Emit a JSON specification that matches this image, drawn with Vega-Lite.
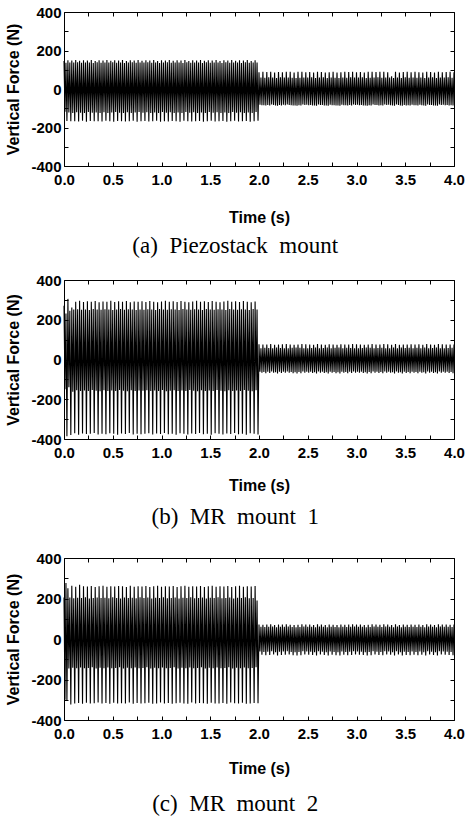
{
"$schema":"https://vega.github.io/schema/vega-lite/v6.json",
"background":"white",
"padding":{"left":5,"top":4,"right":0,"bottom":2},
"config":{
"view":{"stroke":"black","strokeWidth":1},
"axis":{"grid":false,"domain":false,"tickColor":"black","tickSize":-4,"tickWidth":1,"labelFont":"Liberation Sans","labelFontWeight":"bold","labelFontSize":15,"labelColor":"black","labelFlush":false,"labelOverlap":false,"titleFont":"Liberation Sans","titleFontWeight":"bold","titleFontSize":16,"titleColor":"black"},
"title":{"font":"Liberation Serif","fontSize":23,"fontWeight":"normal","color":"black","orient":"bottom","anchor":"middle","frame":"bounds"}
},
"data":{"name":"f"},
"datasets":{"f":[
{"t":0.00,"a":145,"b":270,"c":205},{"t":0.01,"a":-118,"b":-150,"c":-300},{"t":0.02,"a":136,"b":232,"c":276},{"t":0.03,"a":-166,"b":-386,"c":-306},
{"t":0.04,"a":149,"b":305,"c":250},{"t":0.05,"a":-122,"b":-140,"c":-146},{"t":0.06,"a":138,"b":245,"c":205},{"t":0.07,"a":-168,"b":-380,"c":-324},
{"t":0.08,"a":148,"b":262,"c":263},{"t":0.09,"a":-124,"b":-162,"c":-142},{"t":0.10,"a":137,"b":251,"c":201},{"t":0.11,"a":-167,"b":-371,"c":-318},
{"t":0.12,"a":150,"b":290,"c":258},{"t":0.13,"a":-121,"b":-155,"c":-144},{"t":0.14,"a":139,"b":253,"c":204},{"t":0.15,"a":-169,"b":-378,"c":-316},
{"t":0.16,"a":147,"b":296,"c":268},{"t":0.17,"a":-123,"b":-158,"c":-141},{"t":0.18,"a":136,"b":250,"c":202},{"t":0.19,"a":-165,"b":-372,"c":-320},
{"t":0.20,"a":149,"b":289,"c":261},{"t":0.21,"a":-125,"b":-156,"c":-145},{"t":0.22,"a":138,"b":252,"c":206},{"t":0.23,"a":-170,"b":-375,"c":-315},
{"t":0.24,"a":148,"b":293,"c":259},{"t":0.25,"a":-120,"b":-159,"c":-143},{"t":0.26,"a":137,"b":249,"c":200},{"t":0.27,"a":-166,"b":-374,"c":-319},
{"t":0.28,"a":150,"b":291,"c":262},{"t":0.29,"a":-123,"b":-154,"c":-140},{"t":0.30,"a":135,"b":254,"c":203},{"t":0.31,"a":-168,"b":-370,"c":-317},
{"t":0.32,"a":146,"b":294,"c":257},{"t":0.33,"a":-122,"b":-157,"c":-146},{"t":0.34,"a":139,"b":251,"c":205},{"t":0.35,"a":-167,"b":-377,"c":-314},
{"t":0.36,"a":149,"b":288,"c":260},{"t":0.37,"a":-124,"b":-160,"c":-142},{"t":0.38,"a":136,"b":250,"c":202},{"t":0.39,"a":-169,"b":-373,"c":-318},
{"t":0.40,"a":148,"b":292,"c":263},{"t":0.41,"a":-121,"b":-155,"c":-144},{"t":0.42,"a":138,"b":253,"c":204},{"t":0.43,"a":-165,"b":-376,"c":-316},
{"t":0.44,"a":150,"b":290,"c":258},{"t":0.45,"a":-125,"b":-158,"c":-141},{"t":0.46,"a":137,"b":252,"c":201},{"t":0.47,"a":-168,"b":-371,"c":-320},
{"t":0.48,"a":147,"b":295,"c":261},{"t":0.49,"a":-122,"b":-156,"c":-145},{"t":0.50,"a":139,"b":249,"c":206},{"t":0.51,"a":-170,"b":-374,"c":-315},
{"t":0.52,"a":149,"b":289,"c":259},{"t":0.53,"a":-120,"b":-159,"c":-143},{"t":0.54,"a":136,"b":251,"c":203},{"t":0.55,"a":-166,"b":-378,"c":-319},
{"t":0.56,"a":148,"b":293,"c":262},{"t":0.57,"a":-123,"b":-154,"c":-140},{"t":0.58,"a":138,"b":254,"c":200},{"t":0.59,"a":-167,"b":-372,"c":-317},
{"t":0.60,"a":150,"b":291,"c":260},{"t":0.61,"a":-124,"b":-157,"c":-146},{"t":0.62,"a":135,"b":250,"c":205},{"t":0.63,"a":-169,"b":-375,"c":-318},
{"t":0.64,"a":146,"b":294,"c":257},{"t":0.65,"a":-121,"b":-160,"c":-142},{"t":0.66,"a":137,"b":253,"c":202},{"t":0.67,"a":-168,"b":-370,"c":-314},
{"t":0.68,"a":149,"b":288,"c":263},{"t":0.69,"a":-125,"b":-155,"c":-144},{"t":0.70,"a":139,"b":252,"c":204},{"t":0.71,"a":-165,"b":-377,"c":-320},
{"t":0.72,"a":148,"b":292,"c":258},{"t":0.73,"a":-122,"b":-158,"c":-141},{"t":0.74,"a":136,"b":249,"c":201},{"t":0.75,"a":-170,"b":-373,"c":-316},
{"t":0.76,"a":150,"b":290,"c":261},{"t":0.77,"a":-120,"b":-156,"c":-145},{"t":0.78,"a":138,"b":251,"c":206},{"t":0.79,"a":-167,"b":-376,"c":-319},
{"t":0.80,"a":147,"b":293,"c":259},{"t":0.81,"a":-123,"b":-157,"c":-143},{"t":0.82,"a":137,"b":250,"c":203},{"t":0.83,"a":-166,"b":-374,"c":-317},
{"t":0.84,"a":149,"b":289,"c":262},{"t":0.85,"a":-121,"b":-155,"c":-140},{"t":0.86,"a":139,"b":253,"c":205},{"t":0.87,"a":-169,"b":-371,"c":-315},
{"t":0.88,"a":148,"b":294,"c":257},{"t":0.89,"a":-124,"b":-159,"c":-146},{"t":0.90,"a":136,"b":252,"c":200},{"t":0.91,"a":-168,"b":-377,"c":-320},
{"t":0.92,"a":150,"b":291,"c":260},{"t":0.93,"a":-122,"b":-156,"c":-142},{"t":0.94,"a":138,"b":249,"c":204},{"t":0.95,"a":-165,"b":-372,"c":-318},
{"t":0.96,"a":146,"b":288,"c":263},{"t":0.97,"a":-125,"b":-158,"c":-144},{"t":0.98,"a":135,"b":254,"c":202},{"t":0.99,"a":-170,"b":-375,"c":-314},
{"t":1.00,"a":149,"b":292,"c":258},{"t":1.01,"a":-120,"b":-154,"c":-141},{"t":1.02,"a":137,"b":251,"c":206},{"t":1.03,"a":-167,"b":-370,"c":-319},
{"t":1.04,"a":148,"b":295,"c":261},{"t":1.05,"a":-123,"b":-160,"c":-145},{"t":1.06,"a":139,"b":250,"c":201},{"t":1.07,"a":-169,"b":-376,"c":-316},
{"t":1.08,"a":150,"b":290,"c":259},{"t":1.09,"a":-121,"b":-157,"c":-143},{"t":1.10,"a":136,"b":253,"c":203},{"t":1.11,"a":-166,"b":-373,"c":-320},
{"t":1.12,"a":147,"b":293,"c":262},{"t":1.13,"a":-124,"b":-155,"c":-140},{"t":1.14,"a":138,"b":252,"c":205},{"t":1.15,"a":-168,"b":-378,"c":-317},
{"t":1.16,"a":149,"b":289,"c":257},{"t":1.17,"a":-122,"b":-158,"c":-146},{"t":1.18,"a":137,"b":249,"c":200},{"t":1.19,"a":-170,"b":-371,"c":-315},
{"t":1.20,"a":148,"b":294,"c":260},{"t":1.21,"a":-125,"b":-156,"c":-142},{"t":1.22,"a":135,"b":254,"c":204},{"t":1.23,"a":-165,"b":-374,"c":-318},
{"t":1.24,"a":150,"b":291,"c":263},{"t":1.25,"a":-120,"b":-159,"c":-144},{"t":1.26,"a":139,"b":251,"c":202},{"t":1.27,"a":-167,"b":-377,"c":-320},
{"t":1.28,"a":146,"b":288,"c":258},{"t":1.29,"a":-123,"b":-154,"c":-141},{"t":1.30,"a":136,"b":250,"c":206},{"t":1.31,"a":-169,"b":-372,"c":-314},
{"t":1.32,"a":149,"b":292,"c":261},{"t":1.33,"a":-121,"b":-157,"c":-145},{"t":1.34,"a":138,"b":253,"c":201},{"t":1.35,"a":-168,"b":-375,"c":-319},
{"t":1.36,"a":148,"b":295,"c":259},{"t":1.37,"a":-124,"b":-160,"c":-143},{"t":1.38,"a":137,"b":252,"c":203},{"t":1.39,"a":-166,"b":-370,"c":-316},
{"t":1.40,"a":150,"b":290,"c":262},{"t":1.41,"a":-122,"b":-155,"c":-140},{"t":1.42,"a":135,"b":249,"c":205},{"t":1.43,"a":-170,"b":-376,"c":-317},
{"t":1.44,"a":147,"b":293,"c":257},{"t":1.45,"a":-125,"b":-158,"c":-146},{"t":1.46,"a":139,"b":254,"c":200},{"t":1.47,"a":-167,"b":-373,"c":-320},
{"t":1.48,"a":149,"b":289,"c":260},{"t":1.49,"a":-120,"b":-156,"c":-142},{"t":1.50,"a":136,"b":251,"c":204},{"t":1.51,"a":-165,"b":-378,"c":-315},
{"t":1.52,"a":148,"b":294,"c":263},{"t":1.53,"a":-123,"b":-159,"c":-144},{"t":1.54,"a":138,"b":250,"c":202},{"t":1.55,"a":-169,"b":-371,"c":-318},
{"t":1.56,"a":150,"b":291,"c":258},{"t":1.57,"a":-121,"b":-154,"c":-141},{"t":1.58,"a":137,"b":253,"c":206},{"t":1.59,"a":-168,"b":-374,"c":-319},
{"t":1.60,"a":146,"b":288,"c":261},{"t":1.61,"a":-124,"b":-157,"c":-145},{"t":1.62,"a":135,"b":252,"c":201},{"t":1.63,"a":-166,"b":-377,"c":-316},
{"t":1.64,"a":149,"b":292,"c":259},{"t":1.65,"a":-122,"b":-160,"c":-143},{"t":1.66,"a":139,"b":249,"c":203},{"t":1.67,"a":-170,"b":-372,"c":-320},
{"t":1.68,"a":148,"b":295,"c":262},{"t":1.69,"a":-125,"b":-155,"c":-140},{"t":1.70,"a":136,"b":254,"c":205},{"t":1.71,"a":-167,"b":-375,"c":-314},
{"t":1.72,"a":150,"b":290,"c":257},{"t":1.73,"a":-120,"b":-158,"c":-146},{"t":1.74,"a":138,"b":251,"c":200},{"t":1.75,"a":-165,"b":-370,"c":-317},
{"t":1.76,"a":147,"b":293,"c":260},{"t":1.77,"a":-123,"b":-156,"c":-142},{"t":1.78,"a":137,"b":250,"c":204},{"t":1.79,"a":-169,"b":-376,"c":-318},
{"t":1.80,"a":149,"b":289,"c":263},{"t":1.81,"a":-121,"b":-159,"c":-144},{"t":1.82,"a":135,"b":253,"c":202},{"t":1.83,"a":-168,"b":-373,"c":-315},
{"t":1.84,"a":148,"b":294,"c":258},{"t":1.85,"a":-124,"b":-154,"c":-141},{"t":1.86,"a":139,"b":252,"c":206},{"t":1.87,"a":-166,"b":-378,"c":-320},
{"t":1.88,"a":150,"b":291,"c":261},{"t":1.89,"a":-122,"b":-157,"c":-145},{"t":1.90,"a":136,"b":249,"c":201},{"t":1.91,"a":-170,"b":-371,"c":-319},
{"t":1.92,"a":146,"b":288,"c":259},{"t":1.93,"a":-125,"b":-160,"c":-143},{"t":1.94,"a":138,"b":254,"c":203},{"t":1.95,"a":-167,"b":-374,"c":-316},
{"t":1.96,"a":149,"b":292,"c":262},{"t":1.97,"a":-120,"b":-155,"c":-140},{"t":1.98,"a":137,"b":251,"c":190},{"t":1.99,"a":-165,"b":-377,"c":-317},
{"t":2.00,"a":87,"b":77,"c":72},{"t":2.01,"a":-82,"b":-61,"c":-62},{"t":2.02,"a":60,"b":57,"c":61},{"t":2.03,"a":-84,"b":-67,"c":-78},
{"t":2.04,"a":89,"b":75,"c":70},{"t":2.05,"a":-84,"b":-63,"c":-64},{"t":2.06,"a":58,"b":59,"c":59},{"t":2.07,"a":-86,"b":-69,"c":-80},
{"t":2.08,"a":88,"b":76,"c":71},{"t":2.09,"a":-83,"b":-62,"c":-63},{"t":2.10,"a":61,"b":58,"c":60},{"t":2.11,"a":-85,"b":-68,"c":-79},
{"t":2.12,"a":90,"b":78,"c":73},{"t":2.13,"a":-81,"b":-60,"c":-61},{"t":2.14,"a":59,"b":56,"c":62},{"t":2.15,"a":-83,"b":-66,"c":-77},
{"t":2.16,"a":86,"b":74,"c":69},{"t":2.17,"a":-85,"b":-64,"c":-65},{"t":2.18,"a":57,"b":60,"c":58},{"t":2.19,"a":-87,"b":-70,"c":-81},
{"t":2.20,"a":88,"b":76,"c":71},{"t":2.21,"a":-83,"b":-62,"c":-63},{"t":2.22,"a":61,"b":58,"c":60},{"t":2.23,"a":-85,"b":-68,"c":-79},
{"t":2.24,"a":87,"b":77,"c":72},{"t":2.25,"a":-82,"b":-61,"c":-62},{"t":2.26,"a":60,"b":57,"c":61},{"t":2.27,"a":-84,"b":-67,"c":-78},
{"t":2.28,"a":90,"b":78,"c":73},{"t":2.29,"a":-81,"b":-60,"c":-61},{"t":2.30,"a":59,"b":56,"c":62},{"t":2.31,"a":-83,"b":-66,"c":-77},
{"t":2.32,"a":89,"b":75,"c":70},{"t":2.33,"a":-84,"b":-63,"c":-64},{"t":2.34,"a":58,"b":59,"c":59},{"t":2.35,"a":-86,"b":-69,"c":-80},
{"t":2.36,"a":86,"b":74,"c":69},{"t":2.37,"a":-85,"b":-64,"c":-65},{"t":2.38,"a":57,"b":60,"c":58},{"t":2.39,"a":-87,"b":-70,"c":-81},
{"t":2.40,"a":89,"b":75,"c":70},{"t":2.41,"a":-84,"b":-63,"c":-64},{"t":2.42,"a":58,"b":59,"c":59},{"t":2.43,"a":-86,"b":-69,"c":-80},
{"t":2.44,"a":90,"b":78,"c":73},{"t":2.45,"a":-81,"b":-60,"c":-61},{"t":2.46,"a":59,"b":56,"c":62},{"t":2.47,"a":-83,"b":-66,"c":-77},
{"t":2.48,"a":87,"b":77,"c":72},{"t":2.49,"a":-82,"b":-61,"c":-62},{"t":2.50,"a":60,"b":57,"c":61},{"t":2.51,"a":-84,"b":-67,"c":-78},
{"t":2.52,"a":88,"b":76,"c":71},{"t":2.53,"a":-83,"b":-62,"c":-63},{"t":2.54,"a":61,"b":58,"c":60},{"t":2.55,"a":-85,"b":-68,"c":-79},
{"t":2.56,"a":86,"b":74,"c":69},{"t":2.57,"a":-85,"b":-64,"c":-65},{"t":2.58,"a":57,"b":60,"c":58},{"t":2.59,"a":-87,"b":-70,"c":-81},
{"t":2.60,"a":90,"b":78,"c":73},{"t":2.61,"a":-81,"b":-60,"c":-61},{"t":2.62,"a":59,"b":56,"c":62},{"t":2.63,"a":-83,"b":-66,"c":-77},
{"t":2.64,"a":88,"b":76,"c":71},{"t":2.65,"a":-83,"b":-62,"c":-63},{"t":2.66,"a":61,"b":58,"c":60},{"t":2.67,"a":-85,"b":-68,"c":-79},
{"t":2.68,"a":86,"b":74,"c":69},{"t":2.69,"a":-85,"b":-64,"c":-65},{"t":2.70,"a":57,"b":60,"c":58},{"t":2.71,"a":-87,"b":-70,"c":-81},
{"t":2.72,"a":87,"b":77,"c":72},{"t":2.73,"a":-82,"b":-61,"c":-62},{"t":2.74,"a":60,"b":57,"c":61},{"t":2.75,"a":-84,"b":-67,"c":-78},
{"t":2.76,"a":89,"b":75,"c":70},{"t":2.77,"a":-84,"b":-63,"c":-64},{"t":2.78,"a":58,"b":59,"c":59},{"t":2.79,"a":-86,"b":-69,"c":-80},
{"t":2.80,"a":86,"b":74,"c":69},{"t":2.81,"a":-85,"b":-64,"c":-65},{"t":2.82,"a":57,"b":60,"c":58},{"t":2.83,"a":-87,"b":-70,"c":-81},
{"t":2.84,"a":87,"b":77,"c":72},{"t":2.85,"a":-82,"b":-61,"c":-62},{"t":2.86,"a":60,"b":57,"c":61},{"t":2.87,"a":-84,"b":-67,"c":-78},
{"t":2.88,"a":89,"b":75,"c":70},{"t":2.89,"a":-84,"b":-63,"c":-64},{"t":2.90,"a":58,"b":59,"c":59},{"t":2.91,"a":-86,"b":-69,"c":-80},
{"t":2.92,"a":88,"b":76,"c":71},{"t":2.93,"a":-83,"b":-62,"c":-63},{"t":2.94,"a":61,"b":58,"c":60},{"t":2.95,"a":-85,"b":-68,"c":-79},
{"t":2.96,"a":90,"b":78,"c":73},{"t":2.97,"a":-81,"b":-60,"c":-61},{"t":2.98,"a":59,"b":56,"c":62},{"t":2.99,"a":-83,"b":-66,"c":-77},
{"t":3.00,"a":87,"b":77,"c":72},{"t":3.01,"a":-82,"b":-61,"c":-62},{"t":3.02,"a":60,"b":57,"c":61},{"t":3.03,"a":-84,"b":-67,"c":-78},
{"t":3.04,"a":88,"b":76,"c":71},{"t":3.05,"a":-83,"b":-62,"c":-63},{"t":3.06,"a":61,"b":58,"c":60},{"t":3.07,"a":-85,"b":-68,"c":-79},
{"t":3.08,"a":86,"b":74,"c":69},{"t":3.09,"a":-85,"b":-64,"c":-65},{"t":3.10,"a":57,"b":60,"c":58},{"t":3.11,"a":-87,"b":-70,"c":-81},
{"t":3.12,"a":89,"b":75,"c":70},{"t":3.13,"a":-84,"b":-63,"c":-64},{"t":3.14,"a":58,"b":59,"c":59},{"t":3.15,"a":-86,"b":-69,"c":-80},
{"t":3.16,"a":90,"b":78,"c":73},{"t":3.17,"a":-81,"b":-60,"c":-61},{"t":3.18,"a":59,"b":56,"c":62},{"t":3.19,"a":-83,"b":-66,"c":-77},
{"t":3.20,"a":88,"b":76,"c":71},{"t":3.21,"a":-83,"b":-62,"c":-63},{"t":3.22,"a":61,"b":58,"c":60},{"t":3.23,"a":-85,"b":-68,"c":-79},
{"t":3.24,"a":89,"b":75,"c":70},{"t":3.25,"a":-84,"b":-63,"c":-64},{"t":3.26,"a":58,"b":59,"c":59},{"t":3.27,"a":-86,"b":-69,"c":-80},
{"t":3.28,"a":90,"b":78,"c":73},{"t":3.29,"a":-81,"b":-60,"c":-61},{"t":3.30,"a":59,"b":56,"c":62},{"t":3.31,"a":-83,"b":-66,"c":-77},
{"t":3.32,"a":87,"b":77,"c":72},{"t":3.33,"a":-82,"b":-61,"c":-62},{"t":3.34,"a":60,"b":57,"c":61},{"t":3.35,"a":-84,"b":-67,"c":-78},
{"t":3.36,"a":66,"b":74,"c":69},{"t":3.37,"a":-85,"b":-64,"c":-65},{"t":3.38,"a":57,"b":60,"c":58},{"t":3.39,"a":-87,"b":-70,"c":-81},
{"t":3.40,"a":90,"b":78,"c":73},{"t":3.41,"a":-81,"b":-60,"c":-61},{"t":3.42,"a":59,"b":56,"c":62},{"t":3.43,"a":-83,"b":-66,"c":-77},
{"t":3.44,"a":86,"b":74,"c":69},{"t":3.45,"a":-85,"b":-64,"c":-65},{"t":3.46,"a":57,"b":60,"c":58},{"t":3.47,"a":-87,"b":-70,"c":-81},
{"t":3.48,"a":88,"b":76,"c":71},{"t":3.49,"a":-83,"b":-62,"c":-63},{"t":3.50,"a":61,"b":58,"c":60},{"t":3.51,"a":-85,"b":-68,"c":-79},
{"t":3.52,"a":89,"b":75,"c":70},{"t":3.53,"a":-84,"b":-63,"c":-64},{"t":3.54,"a":58,"b":59,"c":59},{"t":3.55,"a":-86,"b":-69,"c":-80},
{"t":3.56,"a":87,"b":77,"c":72},{"t":3.57,"a":-82,"b":-61,"c":-62},{"t":3.58,"a":60,"b":57,"c":61},{"t":3.59,"a":-84,"b":-67,"c":-78},
{"t":3.60,"a":89,"b":75,"c":70},{"t":3.61,"a":-84,"b":-63,"c":-64},{"t":3.62,"a":58,"b":59,"c":59},{"t":3.63,"a":-86,"b":-69,"c":-80},
{"t":3.64,"a":87,"b":77,"c":72},{"t":3.65,"a":-82,"b":-61,"c":-62},{"t":3.66,"a":60,"b":57,"c":61},{"t":3.67,"a":-84,"b":-67,"c":-78},
{"t":3.68,"a":86,"b":74,"c":69},{"t":3.69,"a":-85,"b":-64,"c":-65},{"t":3.70,"a":57,"b":60,"c":58},{"t":3.71,"a":-87,"b":-70,"c":-81},
{"t":3.72,"a":90,"b":78,"c":73},{"t":3.73,"a":-81,"b":-60,"c":-61},{"t":3.74,"a":59,"b":56,"c":62},{"t":3.75,"a":-83,"b":-66,"c":-77},
{"t":3.76,"a":88,"b":76,"c":71},{"t":3.77,"a":-83,"b":-62,"c":-63},{"t":3.78,"a":61,"b":58,"c":60},{"t":3.79,"a":-85,"b":-68,"c":-79},
{"t":3.80,"a":86,"b":74,"c":69},{"t":3.81,"a":-85,"b":-64,"c":-65},{"t":3.82,"a":57,"b":60,"c":58},{"t":3.83,"a":-87,"b":-70,"c":-81},
{"t":3.84,"a":90,"b":78,"c":73},{"t":3.85,"a":-81,"b":-60,"c":-61},{"t":3.86,"a":59,"b":56,"c":62},{"t":3.87,"a":-83,"b":-66,"c":-77},
{"t":3.88,"a":87,"b":77,"c":72},{"t":3.89,"a":-82,"b":-61,"c":-62},{"t":3.90,"a":60,"b":57,"c":61},{"t":3.91,"a":-84,"b":-67,"c":-78},
{"t":3.92,"a":88,"b":76,"c":71},{"t":3.93,"a":-83,"b":-62,"c":-63},{"t":3.94,"a":61,"b":58,"c":60},{"t":3.95,"a":-85,"b":-68,"c":-79},
{"t":3.96,"a":89,"b":75,"c":70},{"t":3.97,"a":-84,"b":-63,"c":-64},{"t":3.98,"a":58,"b":59,"c":59},{"t":3.99,"a":-86,"b":-69,"c":-80},
{"t":4.00,"a":87,"b":76,"c":71}
]},
"spacing":13,
"vconcat":[
{"width":390,"height":154,
"title":{"text":"(a)\u00a0 Piezostack\u00a0 mount","offset":10},
"layer":[
{"mark":{"type":"line","color":"black","strokeWidth":1.1},
"encoding":{
"x":{"field":"t","type":"quantitative","scale":{"domain":[0,4],"nice":false},"axis":{"orient":"bottom","values":[0,0.25,0.5,0.75,1,1.25,1.5,1.75,2,2.25,2.5,2.75,3,3.25,3.5,3.75,4],"labelExpr":"(datum.value*4)%2==0 ? format(datum.value,'.1f') : ''","labelPadding":10,"title":"Time (s)","titlePadding":22}},
"y":{"field":"a","type":"quantitative","scale":{"domain":[-400,400],"nice":false},"axis":{"orient":"left","values":[-400,-300,-200,-100,0,100,200,300,400],"labelExpr":"datum.value%200==0 ? datum.value : ''","labelPadding":7,"title":"Vertical Force (N)","titlePadding":9}}}},
{"mark":{"type":"line","opacity":0},
"encoding":{
"x":{"field":"t","type":"quantitative","axis":{"orient":"top","values":[0,0.25,0.5,0.75,1,1.25,1.5,1.75,2,2.25,2.5,2.75,3,3.25,3.5,3.75,4],"labels":false,"title":null}},
"y":{"field":"a","type":"quantitative","axis":{"orient":"right","values":[-400,-300,-200,-100,0,100,200,300,400],"labels":false,"title":null}}}}
],
"resolve":{"axis":{"x":"independent","y":"independent"}}},
{"spacing":20,
"vconcat":[
{"width":390,"height":159,
"title":{"text":"(b)\u00a0 MR\u00a0 mount\u00a0 1","offset":13},
"layer":[
{"mark":{"type":"line","color":"black","strokeWidth":1.1},
"encoding":{
"x":{"field":"t","type":"quantitative","scale":{"domain":[0,4],"nice":false},"axis":{"orient":"bottom","values":[0,0.25,0.5,0.75,1,1.25,1.5,1.75,2,2.25,2.5,2.75,3,3.25,3.5,3.75,4],"labelExpr":"(datum.value*4)%2==0 ? format(datum.value,'.1f') : ''","labelPadding":10,"title":"Time (s)","titlePadding":17}},
"y":{"field":"b","type":"quantitative","scale":{"domain":[-400,400],"nice":false},"axis":{"orient":"left","values":[-400,-300,-200,-100,0,100,200,300,400],"labelExpr":"datum.value%200==0 ? datum.value : ''","labelPadding":7,"title":"Vertical Force (N)","titlePadding":9}}}},
{"mark":{"type":"line","opacity":0},
"encoding":{
"x":{"field":"t","type":"quantitative","axis":{"orient":"top","values":[0,0.25,0.5,0.75,1,1.25,1.5,1.75,2,2.25,2.5,2.75,3,3.25,3.5,3.75,4],"labels":false,"title":null}},
"y":{"field":"b","type":"quantitative","axis":{"orient":"right","values":[-400,-300,-200,-100,0,100,200,300,400],"labels":false,"title":null}}}}
],
"resolve":{"axis":{"x":"independent","y":"independent"}}},
{"width":390,"height":162,
"title":{"text":"(c)\u00a0 MR\u00a0 mount\u00a0 2","offset":17},
"layer":[
{"mark":{"type":"line","color":"black","strokeWidth":1.1},
"encoding":{
"x":{"field":"t","type":"quantitative","scale":{"domain":[0,4],"nice":false},"axis":{"orient":"bottom","values":[0,0.25,0.5,0.75,1,1.25,1.5,1.75,2,2.25,2.5,2.75,3,3.25,3.5,3.75,4],"labelExpr":"(datum.value*4)%2==0 ? format(datum.value,'.1f') : ''","labelPadding":10,"title":"Time (s)","titlePadding":19}},
"y":{"field":"c","type":"quantitative","scale":{"domain":[-400,400],"nice":false},"axis":{"orient":"left","values":[-400,-300,-200,-100,0,100,200,300,400],"labelExpr":"datum.value%200==0 ? datum.value : ''","labelPadding":7,"title":"Vertical Force (N)","titlePadding":9}}}},
{"mark":{"type":"line","opacity":0},
"encoding":{
"x":{"field":"t","type":"quantitative","axis":{"orient":"top","values":[0,0.25,0.5,0.75,1,1.25,1.5,1.75,2,2.25,2.5,2.75,3,3.25,3.5,3.75,4],"labels":false,"title":null}},
"y":{"field":"c","type":"quantitative","axis":{"orient":"right","values":[-400,-300,-200,-100,0,100,200,300,400],"labels":false,"title":null}}}}
],
"resolve":{"axis":{"x":"independent","y":"independent"}}}
]}
]
}
